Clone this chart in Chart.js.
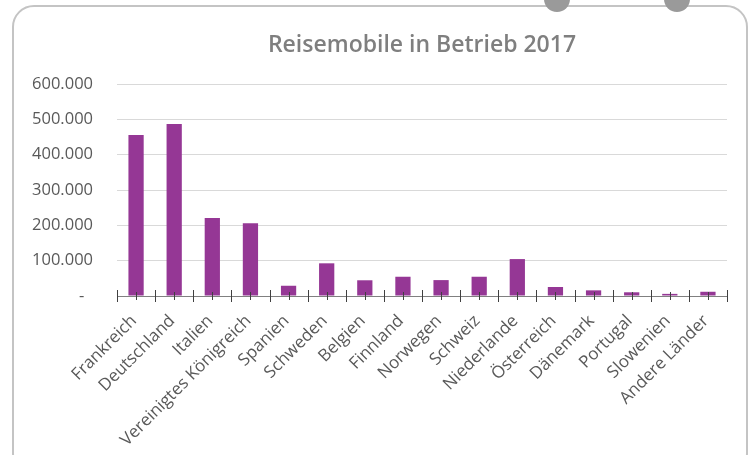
<!DOCTYPE html>
<html>
<head>
<meta charset="utf-8">
<script src="https://cdn.jsdelivr.net/npm/chart.js@4"></script>
<style>
	body{margin:0;background:#fff;width:755px;height:455px;overflow:hidden;position:relative;font-family:'Open Sans',sans-serif;}
	.frame{position:absolute;left:12px;top:5px;width:736px;height:470px;border:2px solid #c4c4c4;border-radius:22px;box-sizing:border-box;}
	.dot{position:absolute;top:-14px;width:26px;height:26px;border-radius:50%;background:#9a9a9a;}
	.title{position:absolute;top:27px;left:0;width:844px;text-align:center;font-size:23px;font-weight:600;color:#7f7f7f;}
	#chart-wrap{position:absolute;left:0;top:0;width:755px;height:455px;}
</style>
</head>
<body>
<div class="frame"></div>
<div class="dot" style="left:544px"></div>
<div class="dot" style="left:664px"></div>
<div id="chart-wrap"><canvas id="bar-area"></canvas></div>
<div class="title">Reisemobile in Betrieb 2017</div>
<script>
var laender = ['Frankreich', 'Deutschland', 'Italien', 'Vereinigtes Königreich', 'Spanien', 'Schweden', 'Belgien', 'Finnland', 'Norwegen', 'Schweiz', 'Niederlande', 'Österreich', 'Dänemark', 'Portugal', 'Slowenien', 'Andere Länder'];
var reisemobile = [456000, 487000, 221000, 206000, 29000, 92500, 44500, 54500, 45000, 54500, 104500, 25500, 16000, 10500, 6000, 12000];
var y_max = 600000;
var y_step = 100000;

function formatZahl(v){
	if (v === 0) return '-  ';
	return v.toString().replace(/\B(?=(\d{3})+(?!\d))/g, '.');
}

// excel style ticks crossing the axis line
var axisTicks = {
	id: 'axisTicks',
	afterDatasetsDraw: function(chart){
		var ctx = chart.ctx;
		var x = chart.scales.x;
		var y0 = chart.scales.y.getPixelForValue(0);
		var step = x.width / laender.length;
		ctx.save();
		ctx.strokeStyle = '#808080';
		ctx.lineWidth = 1;
		ctx.beginPath();
		ctx.moveTo(x.left, y0 + 0.5);
		ctx.lineTo(x.right, y0 + 0.5);
		ctx.stroke();
		ctx.strokeStyle = '#404040';
		ctx.beginPath();
		for (var i = 0; i <= laender.length; i++) {
			var px = Math.round(x.left + i * step) + 0.5;
			ctx.moveTo(px, y0 - 6);
			ctx.lineTo(px, y0 + 6);
		}
		for (var i = 0; i < laender.length; i++) {
			var px = Math.round(x.getPixelForValue(i)) + 0.5;
			ctx.moveTo(px, y0 - 4);
			ctx.lineTo(px, y0 + 4);
		}
		ctx.stroke();
		ctx.restore();
	}
};

var config_bar = {
	type: 'bar',
	data: {
		labels: laender,
		datasets: [{
			data: reisemobile,
			backgroundColor: '#953795',
			borderWidth: 0,
			categoryPercentage: 1,
			barPercentage: 0.4
		}]
	},
	options: {
		responsive: true,
		maintainAspectRatio: false,
		animation: false,
		layout: {
			padding: {top: 84, right: 28, bottom: 0, left: 0}
		},
		plugins: {
			legend: {display: false},
			tooltip: {enabled: false}
		},
		scales: {
			x: {
				grid: {display: false},
				border: {display: false},
				ticks: {
					color: '#595959',
					font: {family: 'Open Sans', size: 17},
					minRotation: 45,
					maxRotation: 45,
					autoSkip: false,
					padding: 7,
					labelOffset: -2
				},
				afterFit: function(scale){ scale.height = 159; }
			},
			y: {
				min: 0,
				max: y_max,
				grid: {color: '#d9d9d9', drawTicks: false},
				border: {display: false},
				ticks: {
					stepSize: y_step,
					color: '#595959',
					font: {family: 'Open Sans', size: 16.5},
					padding: 24,
					callback: function(v){ return formatZahl(v); }
				},
				afterFit: function(scale){ scale.width = 117; }
			}
		}
	},
	plugins: [axisTicks]
};

window.onload = function() {
	var ctx = document.getElementById('bar-area').getContext('2d');
	window.myBar = new Chart(ctx, config_bar);
};
</script>
</body>
</html>
